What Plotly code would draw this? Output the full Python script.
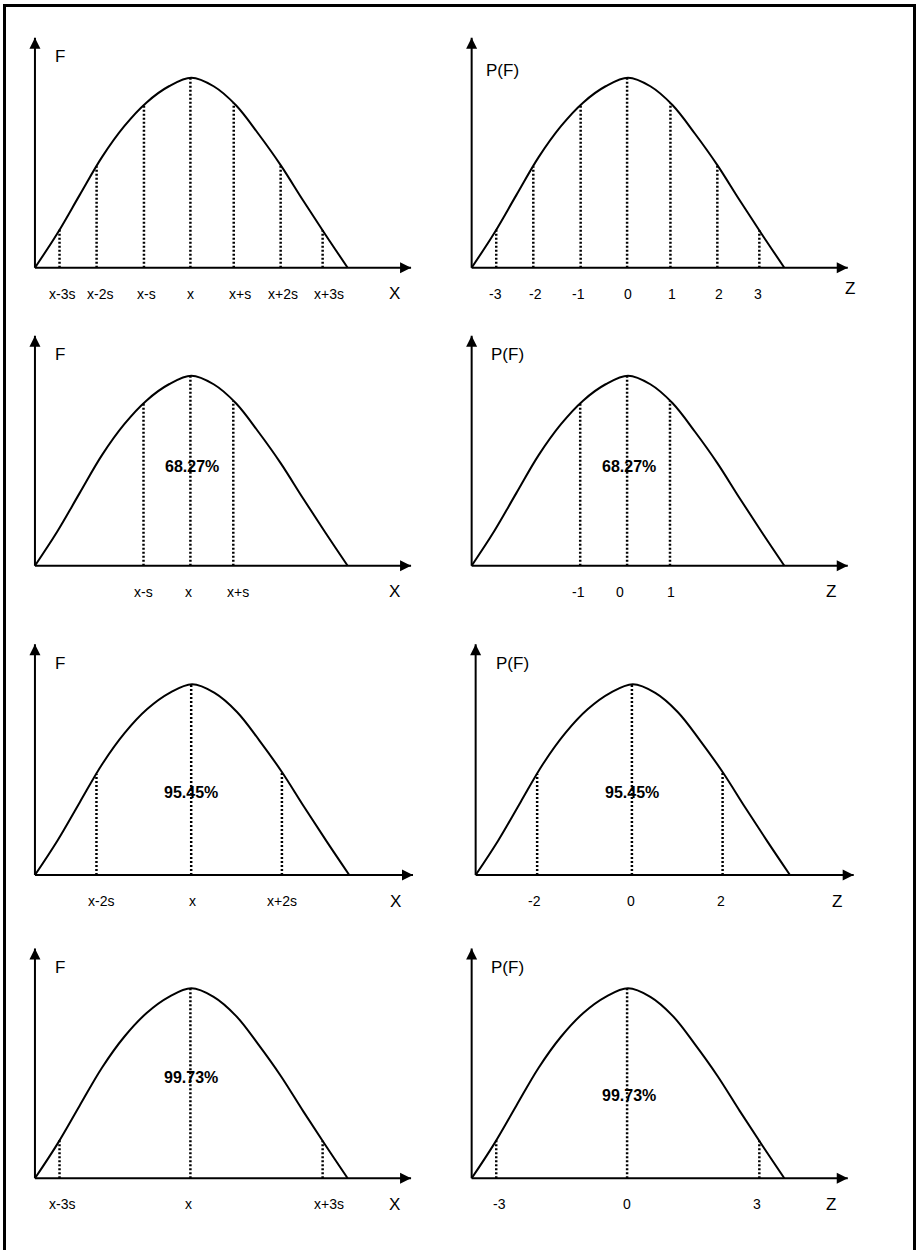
import plotly.graph_objects as go

W, H = 916, 1250

# bell curve: z in s-units, height relative to the peak
curve_z = [-3.5, -3.0, -2.5, -2.0, -1.5, -1.0, -0.5, 0.0, 0.5, 1.0, 1.5, 2.0, 2.5, 3.0, 3.5]
curve_h = [0, 0.18, 0.382, 0.582, 0.745, 0.87, 0.955, 1.0, 0.955, 0.855, 0.705, 0.54, 0.355, 0.175, 0]

axis_tip_x = 4.92
axis_tip_y = 1.21

# dotted guide lines (position, height where they meet the curve)
r1_guide_z = [-2.95, -2.12, -1.06, -0.02, 0.95, 2.0, 2.94]
r1_guide_h = [0.2, 0.534, 0.855, 1.0, 0.865, 0.54, 0.197]
r2_guide_z = [-1.07, -0.02, 0.94]
r2_guide_h = [0.855, 1.0, 0.867]
r3_guide_z = [-2.13, -0.02, 2.0]
r3_guide_h = [0.53, 1.0, 0.54]
r4_guide_z = [-2.95, -0.02, 2.94]
r4_guide_h = [0.2, 1.0, 0.197]

# tick labels under the axis
r1_x_labels = ["x-3s", "x-2s", "x-s", "x", "x+s", "x+2s", "x+3s"]
r1_x_label_z = [-2.89, -2.04, -1.0, -0.01, 1.1, 2.05, 3.08]
r1_z_labels = ["-3", "-2", "-1", "0", "1", "2", "3"]
r1_z_label_z = [-2.96, -2.08, -1.1, 0.0, 0.99, 2.04, 2.92]
r2_x_labels = ["x-s", "x", "x+s"]
r2_x_label_z = [-1.06, -0.06, 1.05]
r2_z_labels = ["-1", "0", "1"]
r2_z_label_z = [-1.1, -0.19, 0.96]
r3_x_labels = ["x-2s", "x", "x+2s"]
r3_x_label_z = [-2.03, 0.01, 2.01]
r3_z_labels = ["-2", "0", "2"]
r3_z_label_z = [-2.18, -0.04, 1.96]
r4_x_labels = ["x-3s", "x", "x+3s"]
r4_x_label_z = [-2.89, -0.07, 3.09]
r4_z_labels = ["-3", "0", "3"]
r4_z_label_z = [-2.87, -0.02, 2.88]

# share of the area between the guides
pct_labels = ["68.27%", "95.45%", "99.73%"]
pct_left_pos = [(0.01, 0.52), (-0.02, 0.434), (0.0, 0.532)]
pct_right_pos = [(0.02, 0.52), (-0.02, 0.434), (0.03, 0.438)]

# panel placement in pixels: centre x, baseline y, px per unit x / y
row_base = [267.7, 565.7, 875.0, 1178.3]
row_cx_left = [191.3, 191.3, 192.1, 191.3]
row_cx_right = [628.0, 628.0, 632.8, 628.0]
row_kx = [44.67, 44.67, 44.9, 44.67]
row_ky = [190.0, 190.0, 190.7, 190.0]

XR = [-3.8, 5.2]
YR = [-0.3, 1.3]

FONT = "Liberation Sans, Arial, sans-serif"

guides = [(r1_guide_z, r1_guide_h), (r2_guide_z, r2_guide_h),
          (r3_guide_z, r3_guide_h), (r4_guide_z, r4_guide_h)]
left_ticks = [(r1_x_labels, r1_x_label_z), (r2_x_labels, r2_x_label_z),
              (r3_x_labels, r3_x_label_z), (r4_x_labels, r4_x_label_z)]
right_ticks = [(r1_z_labels, r1_z_label_z), (r2_z_labels, r2_z_label_z),
               (r3_z_labels, r3_z_label_z), (r4_z_labels, r4_z_label_z)]

panels = []
for r in range(4):
    panels.append(dict(cx=row_cx_left[r], row=r, side="L",
                       ticks=left_ticks[r], axis_name="X", axis_name_z=4.54,
                       ylab="F", ylab_pos=(-2.94, 1.11),
                       pct=pct_left_pos[r - 1] if r > 0 else None))
    panels.append(dict(cx=row_cx_right[r], row=r, side="R",
                       ticks=right_ticks[r], axis_name="Z",
                       axis_name_z=4.96 if r == 0 else 4.54,
                       ylab="P(F)", ylab_pos=(-2.81, 1.04) if r == 0 else (-2.69, 1.11),
                       pct=pct_right_pos[r - 1] if r > 0 else None))

fig = go.Figure()
layout = dict(width=W, height=H, margin=dict(l=0, r=0, t=0, b=0),
              paper_bgcolor="white", plot_bgcolor="white", showlegend=False)
annotations = []

for i, p in enumerate(panels):
    n = i + 1
    r = p["row"]
    kx, ky, by = row_kx[r], row_ky[r], row_base[r]
    xd = [(p["cx"] + kx * XR[0]) / W, (p["cx"] + kx * XR[1]) / W]
    yd = [1 - (by - ky * YR[0]) / H, 1 - (by - ky * YR[1]) / H]
    layout[f"xaxis{n}"] = dict(domain=xd, range=XR, visible=False, fixedrange=True,
                               anchor=f"y{n}")
    layout[f"yaxis{n}"] = dict(domain=yd, range=YR, visible=False, fixedrange=True,
                               anchor=f"x{n}")
    xa, ya = f"x{n}", f"y{n}"

    # axes with arrow heads
    fig.add_trace(go.Scatter(
        x=[curve_z[0], axis_tip_x, None, curve_z[0], curve_z[0]],
        y=[0, 0, None, 0, axis_tip_y],
        mode="lines", line=dict(color="black", width=2),
        xaxis=xa, yaxis=ya, hoverinfo="skip", cliponaxis=False))
    fig.add_trace(go.Scatter(
        x=[axis_tip_x, curve_z[0]], y=[0, axis_tip_y], mode="markers",
        marker=dict(symbol=["arrow-right", "arrow-up"], size=11, color="black"),
        xaxis=xa, yaxis=ya, hoverinfo="skip", cliponaxis=False))

    # dotted guides
    gz, gh = guides[r]
    gx, gy = [], []
    for z, h in zip(gz, gh):
        gx += [z, z, None]
        gy += [0, h, None]
    fig.add_trace(go.Scatter(
        x=gx, y=gy, mode="lines",
        line=dict(color="black", width=2.5, dash="2px,2px"),
        xaxis=xa, yaxis=ya, hoverinfo="skip", cliponaxis=False))

    # curve
    fig.add_trace(go.Scatter(
        x=curve_z, y=curve_h, mode="lines",
        line=dict(color="black", width=2, shape="spline", smoothing=1),
        xaxis=xa, yaxis=ya, hoverinfo="skip", cliponaxis=False))

    labels, lz = p["ticks"]
    for txt, z in zip(labels, lz):
        annotations.append(dict(x=z, y=0, xref=xa, yref=ya, text=txt, showarrow=False,
                                yshift=-26, font=dict(family=FONT, size=14, color="black")))
    annotations.append(dict(x=p["axis_name_z"], y=0, xref=xa, yref=ya, text=p["axis_name"],
                            showarrow=False, yshift=-26 if not (r == 0 and p["side"] == "R") else -21,
                            font=dict(family=FONT, size=17, color="black")))
    annotations.append(dict(x=p["ylab_pos"][0], y=p["ylab_pos"][1], xref=xa, yref=ya,
                            text=p["ylab"], showarrow=False,
                            font=dict(family=FONT, size=17, color="black")))
    if p["pct"] is not None:
        annotations.append(dict(x=p["pct"][0], y=p["pct"][1], xref=xa, yref=ya,
                                text="<b>" + pct_labels[r - 1] + "</b>", showarrow=False,
                                font=dict(family=FONT, size=16, color="black")))

layout["annotations"] = annotations
layout["shapes"] = [dict(type="rect", xref="paper", yref="paper",
                         x0=4.5 / W, x1=914.5 / W, y0=-0.01, y1=1 - 5.5 / H,
                         line=dict(color="black", width=3))]
fig.update_layout(**layout)

# the page's default body margin would push the figure 8px off the corner
fig.write_html("out.html", config={"displayModeBar": False},
               post_script="document.body.style.margin='0';")
